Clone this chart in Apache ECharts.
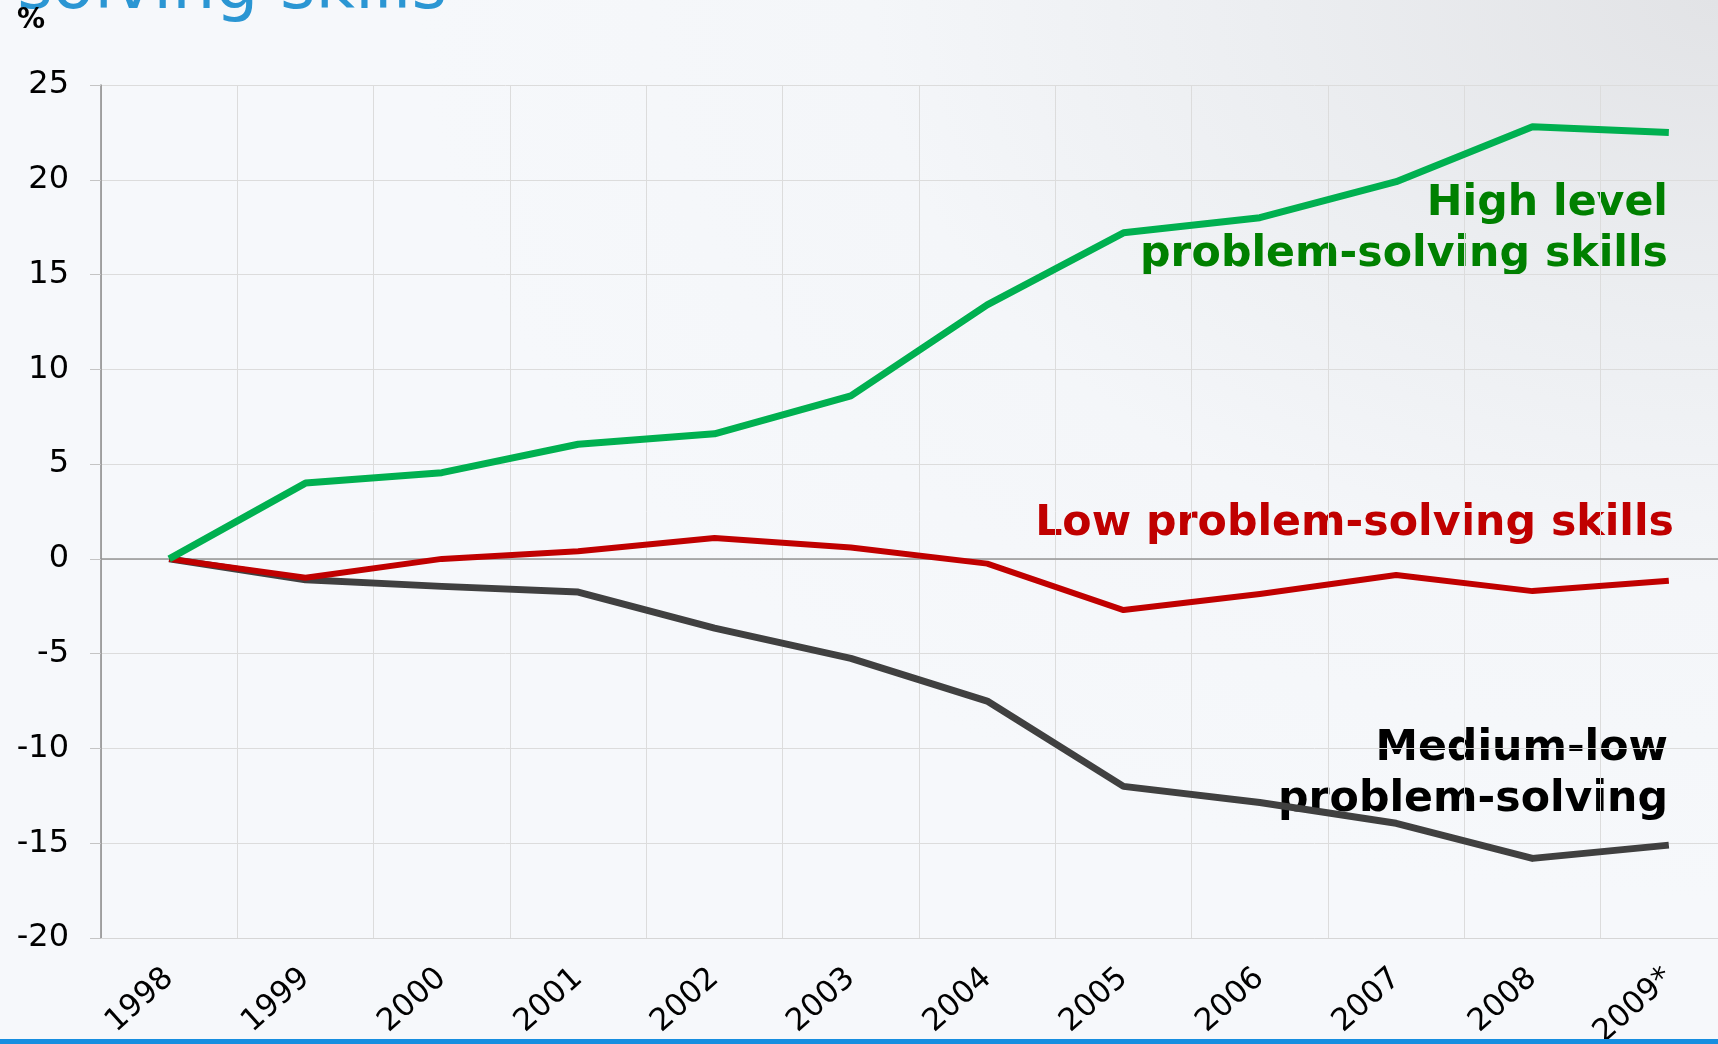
<!DOCTYPE html>
<html>

<head>
    <meta charset="utf-8">
    <title>Problem-solving skills</title>
    <script src="https://cdn.jsdelivr.net/npm/echarts@6/dist/echarts.min.js"></script>
    <style>
        html, body { margin: 0; padding: 0; }
        #main {
            width: 1718px;
            height: 1044px;
            background: radial-gradient(ellipse 1300px 900px at 100% 0%, #e2e3e6 0%, #eceef1 35%, #f4f6f9 65%, #f6f8fb 100%);
        }
    </style>
</head>

<body>
    <div id="main"></div>
    <script type="text/javascript">
        // data
        var years = ["1998", "1999", "2000", "2001", "2002", "2003", "2004", "2005", "2006", "2007", "2008", "2009*"]
        var highSkills = [0, 4.0, 4.55, 6.05, 6.6, 8.6, 13.4, 17.2, 18.0, 19.9, 22.8, 22.5]
        var lowSkills = [0, -1.0, 0, 0.4, 1.1, 0.6, -0.25, -2.7, -1.85, -0.85, -1.7, -1.15]
        var mediumLow = [0, -1.1, -1.45, -1.75, -3.65, -5.25, -7.5, -12.0, -12.85, -13.95, -15.8, -15.1]
        var yTicks = { min: -20, max: 25, step: 5 }

        var myChart = echarts.init(document.getElementById("main"))

        var font = "DejaVu Sans"

        var option = {
            backgroundColor: "transparent",
            animation: false,
            textStyle: { fontFamily: font },
            // the plot runs a little past the right edge of the slide
            grid: { left: 101, top: 85, width: 1636, height: 853, outerBoundsMode: "none" },
            xAxis: [
                {
                    type: "category",
                    data: years,
                    boundaryGap: true,
                    axisLine: { onZero: false, lineStyle: { color: "#d6d6d6", width: 1 } },
                    axisTick: { show: false },
                    splitLine: { show: true, lineStyle: { color: "#dcdcdc", width: 1 } },
                    axisLabel: {
                        rotate: 42,
                        margin: 36,
                        fontSize: 31,
                        color: "#000",
                        fontFamily: font,
                        interval: 0
                    }
                },
                {
                    // zero line
                    type: "category",
                    data: years,
                    position: "bottom",
                    axisLine: { onZero: true, lineStyle: { color: "#959595", width: 1.5 } },
                    axisTick: { show: false },
                    axisLabel: { show: false },
                    splitLine: { show: false }
                }
            ],
            yAxis: {
                type: "value",
                min: yTicks.min,
                max: yTicks.max,
                interval: yTicks.step,
                axisLine: { show: true, lineStyle: { color: "#8a8a8a", width: 1.5 } },
                axisTick: { show: true, length: 11, lineStyle: { color: "#c4c4c4" } },
                splitLine: { show: true, lineStyle: { color: "#dcdcdc", width: 1 } },
                axisLabel: { fontSize: 32, color: "#000", margin: 32, fontFamily: font }
            },
            series: [
                {
                    name: "Medium-low problem-solving",
                    type: "line",
                    data: mediumLow,
                    symbol: "none",
                    lineStyle: { color: "#404040", width: 7, join: "round" }
                },
                {
                    name: "Low problem-solving skills",
                    type: "line",
                    data: lowSkills,
                    symbol: "none",
                    lineStyle: { color: "#c00000", width: 6, join: "round" }
                },
                {
                    name: "High level problem-solving skills",
                    type: "line",
                    data: highSkills,
                    symbol: "none",
                    lineStyle: { color: "#00b050", width: 7, join: "round" }
                }
            ],
            graphic: [
                {
                    // slide title, mostly cut off by the top edge
                    type: "text", x: 447, y: -10,
                    style: { text: "problem-solving skills", font: "68px " + font, fill: "#2b96d3", align: "right", verticalAlign: "middle" }
                },
                {
                    type: "text", x: 31, y: 21,
                    style: { text: "%", font: "bold 28px " + font, fill: "#000", align: "center", verticalAlign: "middle" }
                },
                {
                    type: "text", x: 1668, y: 204,
                    style: { text: "High level", font: "bold 42.7px " + font, fill: "#008000", align: "right", verticalAlign: "middle" }
                },
                {
                    type: "text", x: 1668, y: 255,
                    style: { text: "problem-solving skills", font: "bold 42.7px " + font, fill: "#008000", align: "right", verticalAlign: "middle" }
                },
                {
                    type: "text", x: 1674, y: 524,
                    style: { text: "Low problem-solving skills", font: "bold 42.7px " + font, fill: "#c00000", align: "right", verticalAlign: "middle" }
                },
                {
                    type: "text", x: 1668, y: 749,
                    style: { text: "Medium-low", font: "bold 42.7px " + font, fill: "#000", align: "right", verticalAlign: "middle" }
                },
                {
                    type: "text", x: 1668, y: 800,
                    style: { text: "problem-solving", font: "bold 42.7px " + font, fill: "#000", align: "right", verticalAlign: "middle" }
                },
                {
                    type: "rect", z: 100,
                    shape: { x: 0, y: 1039, width: 1718, height: 5 },
                    style: { fill: "#168ee0" }
                }
            ]
        }

        myChart.setOption(option)
    </script>
</body>

</html>
